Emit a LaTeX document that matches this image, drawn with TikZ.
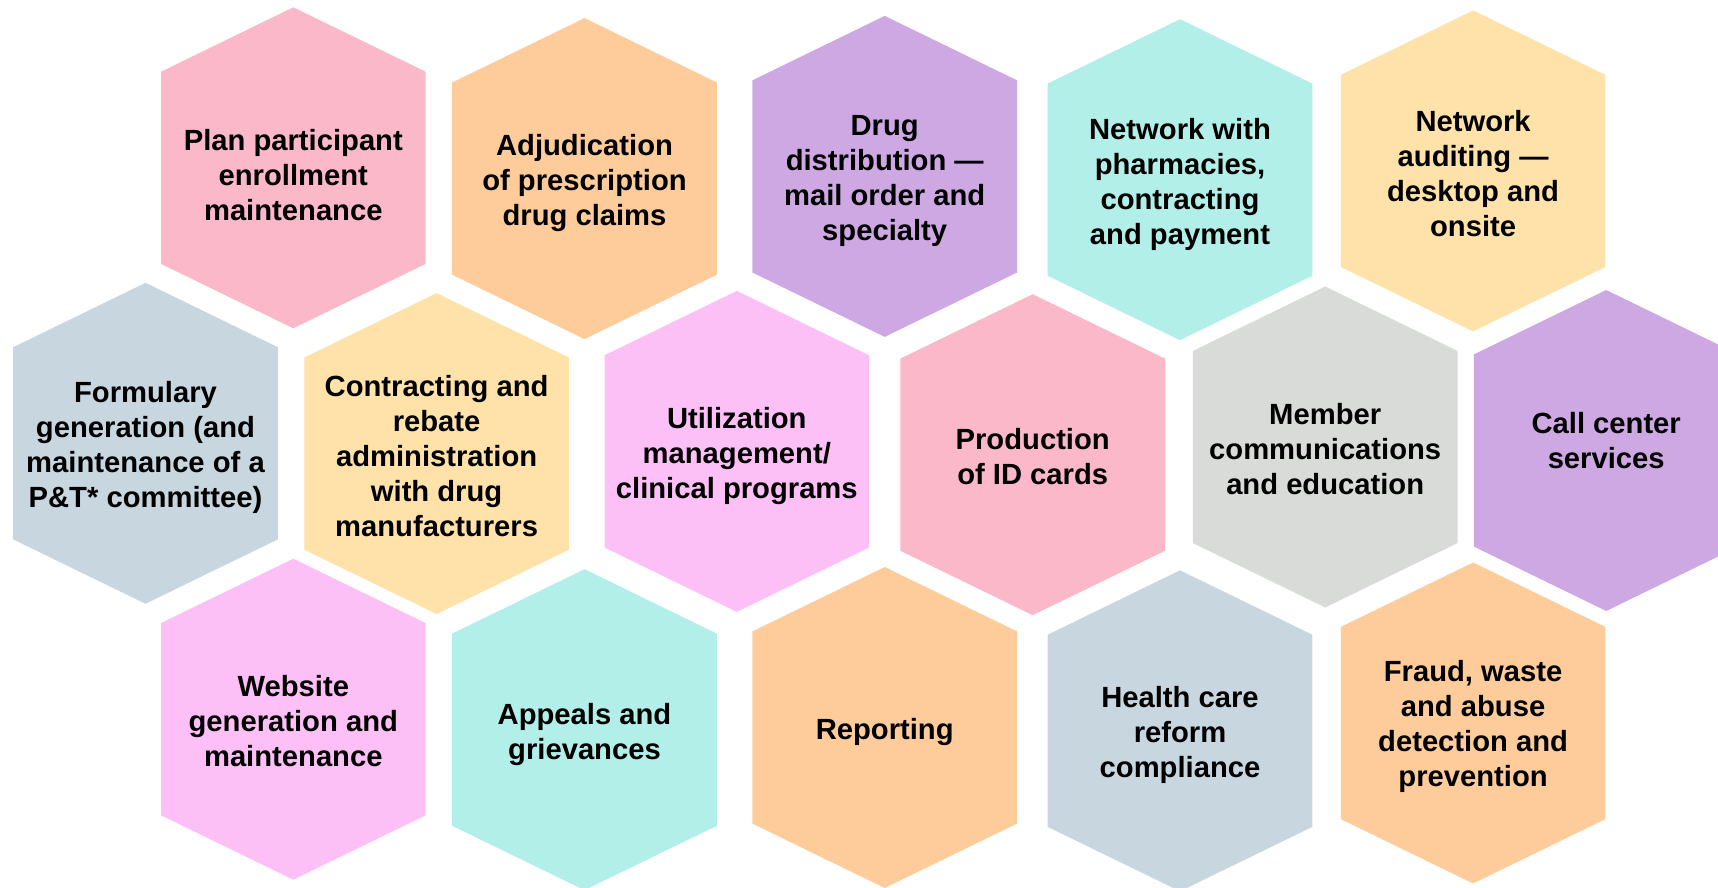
\documentclass[tikz,border=0pt]{standalone}
\usepackage{fontspec}
\setmainfont{Liberation Sans}

\definecolor{hpink}{HTML}{FAB8C9}
\definecolor{hpeach}{HTML}{FDCC9A}
\definecolor{hpurple}{HTML}{CEA8E3}
\definecolor{haqua}{HTML}{B2EFE8}
\definecolor{hyellow}{HTML}{FEE2AA}
\definecolor{hslate}{HTML}{C8D6E0}
\definecolor{hmagenta}{HTML}{FDC0F6}
\definecolor{hgrey}{HTML}{D9DBD9}

\tikzset{
  hexlabel/.style={align=center, inner sep=0pt, text=black,
    font=\bfseries\fontsize{14.6}{17.5}\selectfont}
}

% #1 name, #2 x, #3 y, #4 fill colour, #5 label shift, #6 label
\newcommand{\hexcell}[6]{%
  \fill[#4] (#2,#3) ++(0,-160.5) -- ++(132.3,64.4) -- ++(0,192.2)
    -- ++(-132.3,64.4) -- ++(-132.3,-64.4) -- ++(0,-192.2) -- cycle;
  \node[hexlabel] (#1) at (#2,#3+#5) {#6};
}

\begin{document}
\begin{tikzpicture}[x=0.5pt,y=-0.5pt]
\useasboundingbox (0,0) rectangle (1718,888);
\clip (0,0) rectangle (1718,888);

% top row
\hexcell{enrol}{293.3}{167.8}{hpink}{7}{Plan participant\\enrollment\\maintenance}
\hexcell{adjud}{584.5}{178.6}{hpeach}{4.5}{Adjudication\\of prescription\\drug claims}
\hexcell{distrib}{884.7}{176.4}{hpurple}{5}{Drug\\distribution ---\\mail order and\\specialty}
\hexcell{network}{1180.0}{179.7}{haqua}{4.5}{Network with\\pharmacies,\\contracting\\and payment}
\hexcell{audit}{1473.1}{170.9}{hyellow}{2.5}{Network\\auditing ---\\desktop and\\onsite}

% middle row
\hexcell{formulary}{145.5}{443.3}{hslate}{4}{Formulary\\generation (and\\maintenance of a\\P\&T* committee)}
\hexcell{rebate}{436.6}{453.6}{hyellow}{2.5}{Contracting and\\rebate\\administration\\with drug\\manufacturers}
\hexcell{utilization}{736.8}{451.4}{hmagenta}{4.5}{Utilization\\management/\\clinical programs}
\hexcell{idcards}{1032.7}{454.7}{hpink}{1.5}{Production\\of ID cards}
\hexcell{member}{1325.2}{447.0}{hgrey}{2.5}{Member\\communications\\and education}
\hexcell{callcenter}{1606.2}{450.5}{hpurple}{-10}{Call center\\services}

% bottom row
\hexcell{website}{293.3}{719.2}{hmagenta}{1.5}{Website\\generation and\\maintenance}
\hexcell{appeals}{584.5}{729.7}{haqua}{4.5}{Appeals and\\grievances}
\hexcell{reporting}{884.7}{727.5}{hpeach}{4.5}{Reporting}
\hexcell{reform}{1180.0}{730.8}{hslate}{4.5}{Health care\\reform\\compliance}
\hexcell{fraud}{1473.1}{723.0}{hpeach}{3.5}{Fraud, waste\\and abuse\\detection and\\prevention}
\end{tikzpicture}
\end{document}
